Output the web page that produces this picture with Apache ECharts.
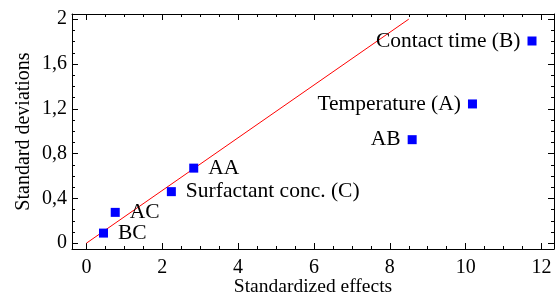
<!DOCTYPE html>
<html>
<head>
<meta charset="utf-8">
<script src="https://cdn.jsdelivr.net/npm/echarts@6/dist/echarts.min.js"></script>
<style>
  html, body { margin: 0; padding: 0; background: #fff; }
  #chart { width: 557px; height: 294px; }
</style>
</head>
<body>
<div id="chart"></div>
<script>
// effects
var names = ['BC', 'AC', 'Surfactant conc. (C)', 'AA', 'AB', 'Temperature (A)', 'Contact time (B)'];
var effects = [0.45, 0.76, 2.24, 2.83, 8.59, 10.18, 11.75];
var deviations = [0.09, 0.275, 0.46, 0.67, 0.924, 1.243, 1.805];
var lineX = [0, 8.5];
var lineY = [0, 2.0];
var xTickRange = [0, 12];   // labelled ticks every 2
var yTickRange = [0, 2];    // labelled ticks every 0.4

var FONT = 'Liberation Serif';
var W = 557, H = 294;
var G = { left: 72, top: 14, right: 3, bottom: 45 };
var X_MIN = -0.38, X_MAX = 12.33;
var Y_MIN = -0.052, Y_MAX = 2.046;

// the tick grid covers only the round part of the range, so ticks start at 0
var kx = (W - G.left - G.right) / (X_MAX - X_MIN);
var ky = (H - G.top - G.bottom) / (Y_MAX - Y_MIN);
var offL = (xTickRange[0] - X_MIN) * kx, offR = (X_MAX - xTickRange[1]) * kx;
var offB = (yTickRange[0] - Y_MIN) * ky, offT = (Y_MAX - yTickRange[1]) * ky;

function frameAxis(min, max, pos) {
    return {
        type: 'value', gridIndex: 0, min: min, max: max, position: pos,
        nameLocation: 'middle', nameMoveOverlap: false,
        axisLine: { show: true, onZero: false, lineStyle: { color: '#000', width: 1 } },
        axisTick: { show: false },
        axisLabel: { show: false },
        splitLine: { show: false }
    };
}

function tickAxis(range, step, pos, offset, label) {
    return {
        type: 'value', gridIndex: 1, min: range[0], max: range[1], interval: step,
        position: pos, offset: offset,
        axisLine: { show: false, onZero: false },
        axisTick: { show: true, inside: true, length: 6, lineStyle: { color: '#000', width: 1 } },
        minorTick: { show: true, splitNumber: 4, length: 3, lineStyle: { color: '#000', width: 1 } },
        axisLabel: label || { show: false },
        splitLine: { show: false },
        minorSplitLine: { show: false }
    };
}

var xBottom = frameAxis(X_MIN, X_MAX, 'bottom');
xBottom.name = 'Standardized effects';
xBottom.nameGap = 28;
xBottom.nameTextStyle = { fontFamily: FONT, fontSize: 19.5, color: '#000' };

var yLeft = frameAxis(Y_MIN, Y_MAX, 'left');
yLeft.name = 'Standard deviations';
yLeft.nameGap = 38;
yLeft.nameRotate = 90;
yLeft.nameTextStyle = { fontFamily: FONT, fontSize: 20, color: '#000' };

var points = names.map(function (n, i) {
    var left = effects[i] > 6;
    return {
        value: [effects[i], deviations[i]],
        name: n,
        label: { position: left ? 'left' : 'right', distance: left ? 7 : 10 }
    };
});

var chart = echarts.init(document.getElementById('chart'));
chart.setOption({
    animation: false,
    grid: [
        { left: G.left, top: G.top, right: G.right, bottom: G.bottom, containLabel: false, outerBoundsMode: 'none' },
        { left: G.left + offL, top: G.top + offT, right: G.right + offR, bottom: G.bottom + offB,
          containLabel: false, outerBoundsMode: 'none' }
    ],
    xAxis: [
        xBottom,
        frameAxis(X_MIN, X_MAX, 'top'),
        tickAxis(xTickRange, 2, 'bottom', offB, {
            show: true, margin: 9, fontFamily: FONT, fontSize: 20, color: '#000'
        }),
        tickAxis(xTickRange, 2, 'top', offT)
    ],
    yAxis: [
        yLeft,
        frameAxis(Y_MIN, Y_MAX, 'right'),
        tickAxis(yTickRange, 0.4, 'left', offL, {
            show: true, margin: 5, fontFamily: FONT, fontSize: 20, color: '#000',
            formatter: function (v) { return String(+v.toFixed(1)).replace('.', ','); }
        }),
        tickAxis(yTickRange, 0.4, 'right', offR)
    ],
    series: [
        {
            type: 'line',
            xAxisIndex: 0, yAxisIndex: 0,
            data: lineX.map(function (x, i) { return [x, lineY[i]]; }),
            showSymbol: false,
            symbol: 'none',
            lineStyle: { color: '#ff0000', width: 1 },
            z: 1
        },
        {
            type: 'scatter',
            xAxisIndex: 0, yAxisIndex: 0,
            data: points,
            symbol: 'rect',
            symbolSize: 9,
            itemStyle: { color: '#0000ff', opacity: 1 },
            label: {
                show: true,
                formatter: '{b}',
                fontFamily: FONT,
                fontSize: 21.5,
                color: '#000'
            },
            z: 2
        }
    ]
});
</script>
</body>
</html>
